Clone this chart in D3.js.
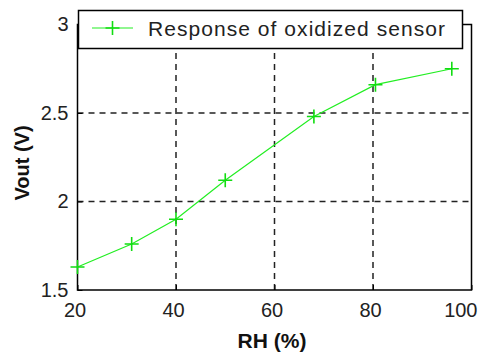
<!DOCTYPE html>
<html>
<head>
<meta charset="utf-8">
<script src="https://d3js.org/d3.v7.min.js"></script>
<style>
  body { margin: 0; background: #fff; }
  svg { display: block; }
</style>
</head>
<body>
<div id="chart"></div>
<script>
// values
const rh = [20, 31, 40, 50, 68, 80.5, 96];
const vout = [1.63, 1.76, 1.90, 2.12, 2.48, 2.66, 2.75];
const xTicks = [20, 40, 60, 80, 100];
const yTicks = [1.5, 2, 2.5, 3];
const seriesName = 'Response of oxidized sensor';

const width = 479, height = 358;
const margin = { top: 24.5, right: 7.5, bottom: 68, left: 77.5 };

const svg = d3.select('#chart').append('svg')
    .attr('width', width)
    .attr('height', height);

const x = d3.scaleLinear().domain([20, 100]).range([margin.left, width - margin.right]);
const y = d3.scaleLinear().domain([1.5, 3]).range([height - margin.bottom, margin.top]);

const font = 'Arial, "Liberation Sans", sans-serif';

// dashed grid
const grid = svg.append('g')
    .attr('stroke', '#222')
    .attr('stroke-width', 1.5)
    .attr('stroke-dasharray', '6,5');

grid.selectAll('.gx')
    .data(xTicks.filter(d => d > 20 && d < 100))
    .enter().append('line')
    .attr('x1', d => x(d)).attr('x2', d => x(d))
    .attr('y1', y(1.5)).attr('y2', y(3));

grid.selectAll('.gy')
    .data(yTicks.filter(d => d > 1.5 && d < 3))
    .enter().append('line')
    .attr('y1', d => y(d)).attr('y2', d => y(d))
    .attr('x1', x(20)).attr('x2', x(100));

// axes (ticks pointing inward, like matlab)
const xAxis = d3.axisBottom(x).tickValues(xTicks).tickSizeInner(-5).tickSizeOuter(0).tickPadding(13);
const yAxis = d3.axisLeft(y).tickValues(yTicks).tickSizeInner(-5).tickSizeOuter(0).tickPadding(9)
    .tickFormat(d3.format('~g'));

const gx = svg.append('g')
    .attr('transform', `translate(0,${y(1.5)})`)
    .call(xAxis);
const gy = svg.append('g')
    .attr('transform', `translate(${x(20)},0)`)
    .call(yAxis);

[gx, gy].forEach(g => {
    g.select('.domain').remove();
    g.selectAll('line').attr('stroke', '#000');
    g.selectAll('text')
        .attr('font-family', font)
        .attr('font-size', 20)
        .attr('fill', '#222');
});

// labels sit a little left of their ticks; the last one is pulled inside the page
gx.selectAll('.tick text')
    .attr('x', d => d === 100 ? 477 - x(100) : -3)
    .attr('text-anchor', d => d === 100 ? 'end' : 'middle');

// box around plot area
svg.append('rect')
    .attr('x', x(20)).attr('y', y(3))
    .attr('width', x(100) - x(20))
    .attr('height', y(1.5) - y(3))
    .attr('fill', 'none')
    .attr('stroke', '#000')
    .attr('stroke-width', 1.5);

// series line
const line = d3.line()
    .x((d, i) => x(rh[i]))
    .y(d => y(d));

svg.append('path')
    .datum(vout)
    .attr('d', line)
    .attr('fill', 'none')
    .attr('stroke', '#22ee22')
    .attr('stroke-width', 1.2);

// plus markers
svg.selectAll('.mk')
    .data(vout)
    .enter().append('path')
    .attr('d', 'M-7,0H7M0,-7V7')
    .attr('transform', (d, i) => `translate(${x(rh[i])},${y(d)})`)
    .attr('stroke', '#11dd11')
    .attr('stroke-width', 1.6);

// legend
const lg = svg.append('g');
lg.append('rect')
    .attr('x', 78.5).attr('y', 10.5)
    .attr('width', 384).attr('height', 38)
    .attr('fill', '#fff')
    .attr('stroke', '#000')
    .attr('stroke-width', 1.5);
lg.append('line')
    .attr('x1', 92).attr('x2', 133)
    .attr('y1', 28).attr('y2', 28)
    .attr('stroke', '#22ee22').attr('stroke-width', 1.2);
lg.append('path')
    .attr('d', 'M-7,0H7M0,-7V7')
    .attr('transform', 'translate(112.5,28)')
    .attr('stroke', '#11dd11')
    .attr('stroke-width', 1.6);
lg.append('text')
    .attr('x', 148).attr('y', 36)
    .attr('font-family', font)
    .attr('font-size', 21)
    .attr('fill', '#222')
    .attr('textLength', 297)
    .attr('lengthAdjust', 'spacing')
    .text(seriesName);

// axis titles
svg.append('text')
    .attr('x', 272).attr('y', 348)
    .attr('text-anchor', 'middle')
    .attr('font-family', font)
    .attr('font-weight', 'bold')
    .attr('font-size', 21)
    .attr('fill', '#111')
    .text('RH (%)');

svg.append('text')
    .attr('transform', 'translate(29,163) rotate(-90)')
    .attr('text-anchor', 'middle')
    .attr('font-family', font)
    .attr('font-weight', 'bold')
    .attr('font-size', 20)
    .attr('fill', '#111')
    .text('Vout (V)');
</script>
</body>
</html>
